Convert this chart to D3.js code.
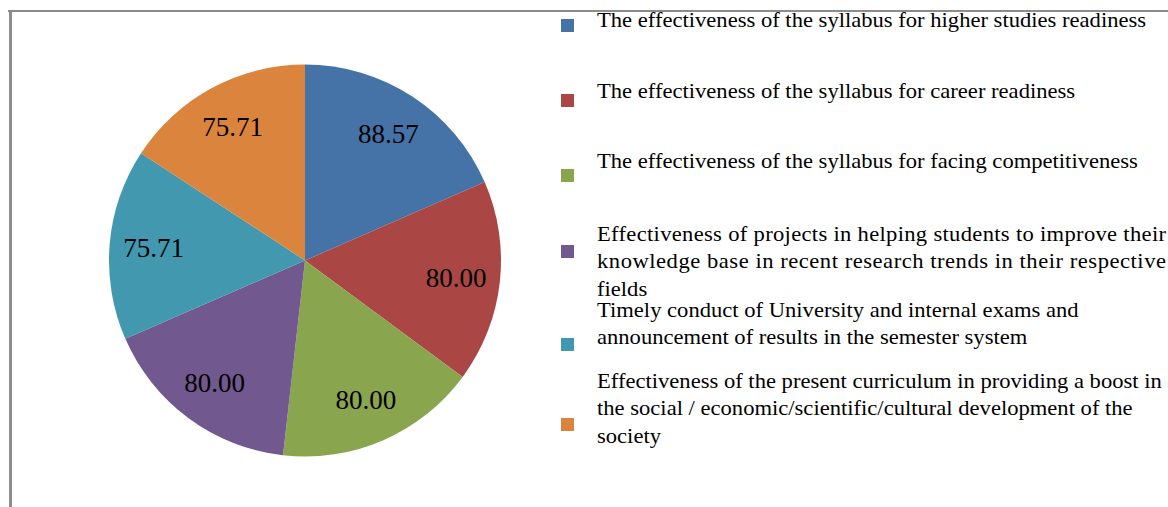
<!DOCTYPE html>
<html>
<head>
<meta charset="utf-8">
<script src="https://cdn.jsdelivr.net/npm/d3@7"></script>
<style>
  html, body { margin: 0; padding: 0; background: #fff; }
  svg { display: block; }
  text { font-family: "Liberation Serif", "Times New Roman", serif; fill: #000; }
</style>
</head>
<body>
<div id="chart"></div>
<script>
// Data
const categories = [
  ["The effectiveness of the syllabus for higher studies readiness"],
  ["The effectiveness of the syllabus for career readiness"],
  ["The effectiveness of the syllabus for facing competitiveness"],
  ["Effectiveness of projects in helping students to improve their",
   "knowledge base in recent research trends in their respective",
   "fields"],
  ["Timely conduct of University and internal exams and",
   "announcement of results in the semester system"],
  ["Effectiveness of the present curriculum in providing a boost in",
   "the social / economic/scientific/cultural development of the",
   "society"]
];
const values = [88.57, 80.00, 80.00, 80.00, 75.71, 75.71];
const colors = ["#4572A7", "#AA4643", "#89A54E", "#71588F", "#4198AF", "#DB843D"];

const W = 1168, H = 507;
const svg = d3.select("#chart").append("svg")
  .attr("width", W).attr("height", H);

// chart area frame (only top and left edges visible)
svg.append("line").attr("x1", 8).attr("x2", W).attr("y1", 11).attr("y2", 11)
  .attr("stroke", "#8c8c8c").attr("stroke-width", 2);
svg.append("line").attr("x1", 10.5).attr("x2", 10.5).attr("y1", 10).attr("y2", H)
  .attr("stroke", "#8c8c8c").attr("stroke-width", 3);

// Pie
const cx = 305, cy = 260.5, r = 196;
const items = values.map((v, i) => ({ v, i }));
const pie = d3.pie().value(d => d.v).sort(null);
const arc = d3.arc().innerRadius(0).outerRadius(r);
const labelArc = d3.arc().innerRadius(152).outerRadius(152);

const g = svg.append("g").attr("transform", `translate(${cx},${cy})`);
const arcs = pie(items);

g.selectAll("path.slice")
  .data(arcs)
  .enter().append("path")
  .attr("class", "slice")
  .attr("d", arc)
  .attr("fill", d => colors[d.data.i]);

g.selectAll("text.lbl")
  .data(arcs)
  .enter().append("text")
  .attr("class", "lbl")
  .attr("transform", d => `translate(${labelArc.centroid(d)})`)
  .attr("text-anchor", "middle")
  .attr("dy", "0.35em")
  .style("font-size", "27px")
  .text(d => d3.format(".2f")(d.data.v));

// Legend (text is drawn slightly stretched horizontally, like the original)
const legendX = 561, textX = 597, rightEdge = 1166, lineH = 27.5;
const sx = 1.13;
const maxLocal = (rightEdge - textX) / sx;
const squareY = [19, 94, 169, 245, 338, 418];
const firstBase = [27, 98, 168, 241, 317, 388];
const justified = [[false], [false], [false], [true, true, false], [false, false], [false, false, false]];

const legend = svg.append("g");
const legendText = legend.append("g")
  .attr("transform", `translate(${textX},0) scale(${sx},1)`);

categories.forEach((lines, i) => {
  legend.append("rect")
    .attr("x", legendX).attr("y", squareY[i])
    .attr("width", 13).attr("height", 13)
    .attr("fill", colors[i]);
  lines.forEach((ln, j) => {
    const t = legendText.append("text")
      .attr("x", 0)
      .attr("y", firstBase[i] + j * lineH)
      .style("font-size", "20px")
      .text(ln);
    const len = t.node().getComputedTextLength();
    if (justified[i][j]) {
      t.attr("textLength", maxLocal).attr("lengthAdjust", "spacing");
    } else if (len > maxLocal) {
      t.attr("textLength", maxLocal).attr("lengthAdjust", "spacingAndGlyphs");
    }
  });
});
</script>
</body>
</html>
